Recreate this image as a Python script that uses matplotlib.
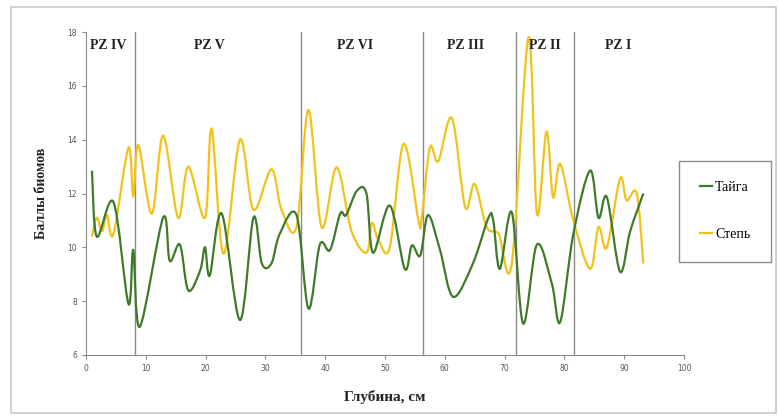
import matplotlib
matplotlib.use("Agg")
import matplotlib.pyplot as plt
from matplotlib.path import Path
from matplotlib.patches import PathPatch, Rectangle
from matplotlib.lines import Line2D
import numpy as np

# Тайга (green) - depth, score
taiga_x = [1.0, 1.8, 4.6, 7.1, 7.9, 9.0, 12.9, 14.0, 15.7, 17.1, 19.1, 19.9, 20.7, 22.7,
           25.75, 28.0, 29.4, 31.0, 32.4, 35.2, 37.2, 39.1, 40.8, 42.5, 43.5, 45.3, 46.9,
           48.0, 50.8, 53.3, 54.5, 55.9, 57.2, 59.2, 61.4, 64.7, 67.3, 68.1, 69.2, 71.2,
           73.1, 75.4, 77.9, 79.3, 81.5, 84.3, 85.7, 87.1, 89.3, 91.0, 93.2]
taiga_y = [12.85, 10.4, 11.68, 7.9, 9.9, 7.05, 11.1, 9.5, 10.1, 8.4, 9.15, 10.0, 8.96, 11.25,
           7.3, 11.1, 9.4, 9.4, 10.5, 11.2, 7.73, 10.1, 9.9, 11.25, 11.2, 12.1, 12.0,
           9.8, 11.55, 9.2, 10.07, 9.7, 11.2, 9.9, 8.16, 9.4, 11.1, 11.0, 9.2, 11.3,
           7.17, 10.1, 8.65, 7.23, 10.5, 12.85, 11.1, 11.86, 9.1, 10.6, 12.0]

# Степь (yellow)
steppe_x = [1.0, 1.8, 2.7, 3.5, 4.6, 7.1, 7.9, 8.75, 11.0, 12.9, 15.4, 17.1, 19.9, 21.0,
            23.0, 25.75, 28.0, 31.0, 32.7, 35.2, 37.2, 39.4, 41.9, 44.4, 46.9, 47.8, 48.9,
            50.8, 53.1, 55.6, 56.1, 57.5, 58.9, 61.2, 63.4, 65.0, 67.0, 69.0, 71.2, 74.0,
            75.4, 77.0, 78.1, 79.3, 81.5, 84.3, 85.7, 87.1, 89.3, 90.4, 92.1, 93.2]
steppe_y = [10.4, 11.1, 10.6, 11.2, 10.5, 13.7, 11.9, 13.8, 11.25, 14.15, 11.1, 13.0, 11.1, 14.4,
            9.76, 14.0, 11.4, 12.9, 11.4, 10.75, 15.1, 10.75, 12.97, 10.6, 9.8, 10.9, 10.27,
            10.0, 13.84, 11.0, 11.0, 13.7, 13.2, 14.8, 11.5, 12.35, 10.75, 10.5, 9.4, 17.8,
            11.25, 14.3, 11.86, 13.1, 11.0, 9.2, 10.75, 10.0, 12.55, 11.75, 12.0, 9.4]

zone_bounds = [8.2, 35.95, 56.35, 71.9, 81.6]
zone_names = ["PZ IV", "PZ V", "PZ VI", "PZ III", "PZ II", "PZ I"]
zone_label_x = [3.7, 20.7, 45.0, 63.4, 76.8, 89.0]

green = "#3f7a2a"
yellow = "#f2c21b"
serif = "Liberation Serif"


def smooth_path(xs, ys):
    # Excel-like smoothed line: Catmull-Rom spline as cubic Bezier segments
    p = np.column_stack([xs, ys])
    n = len(p)
    verts = [p[0]]
    codes = [Path.MOVETO]
    for i in range(n - 1):
        p0 = p[i - 1] if i > 0 else p[i]
        p3 = p[i + 2] if i + 2 < n else p[i + 1]
        c1 = p[i] + (p[i + 1] - p0) / 6
        c2 = p[i + 1] - (p3 - p[i]) / 6
        verts += [c1, c2, p[i + 1]]
        codes += [Path.CURVE4] * 3
    return Path(verts, codes)


fig = plt.figure(figsize=(7.79, 4.16), dpi=100)
fig.patches.append(Rectangle((11 / 779, 3 / 416), 765 / 779, 406 / 416, transform=fig.transFigure,
                             fill=False, edgecolor="#c8c8c8", linewidth=1.2))

ax = fig.add_axes([86 / 779, 1 - 355 / 416, 598 / 779, 323 / 416])
ax.set_xlim(0, 100)
ax.set_ylim(6, 18)

for b in zone_bounds:
    ax.plot([b, b], [6, 18], color="#8a8a8a", lw=1.0, zorder=1)

ax.add_patch(PathPatch(smooth_path(steppe_x, steppe_y), fill=False, edgecolor=yellow, lw=1.6, zorder=3))
ax.add_patch(PathPatch(smooth_path(taiga_x, taiga_y), fill=False, edgecolor=green, lw=1.6, zorder=4))

for name, xp in zip(zone_names, zone_label_x):
    ax.text(xp, 17.5, name, ha="center", va="center", fontsize=10, fontweight="bold",
            family=serif, color="#222222")

for s in ["top", "right"]:
    ax.spines[s].set_visible(False)
for s in ["left", "bottom"]:
    ax.spines[s].set_color("#8a8a8a")
ax.set_xticks(range(0, 101, 10))
ax.set_yticks(range(6, 19, 2))
ax.tick_params(labelsize=5.5, colors="#8a8a8a", labelcolor="#555555", length=3, width=0.8)

ax.set_xlabel("Глубина, см", family=serif, fontweight="bold", fontsize=11, color="#222222", labelpad=12)
ax.set_ylabel("Баллы биомов", family=serif, fontweight="bold", fontsize=10, color="#222222", labelpad=14)

handles = [Line2D([], [], color=green, lw=1.6), Line2D([], [], color=yellow, lw=1.6)]
leg = fig.legend(handles, ["Тайга", "Степь"], loc="center", bbox_to_anchor=(725 / 779, 1 - 211 / 416),
                 prop={"family": serif, "size": 10}, frameon=True, fancybox=False,
                 handlelength=0.9, handletextpad=0.2, labelspacing=2.4, borderpad=1.5)
leg.get_frame().set_edgecolor("#707070")
leg.get_frame().set_linewidth(1.0)

fig.savefig("out.png", dpi=100)
